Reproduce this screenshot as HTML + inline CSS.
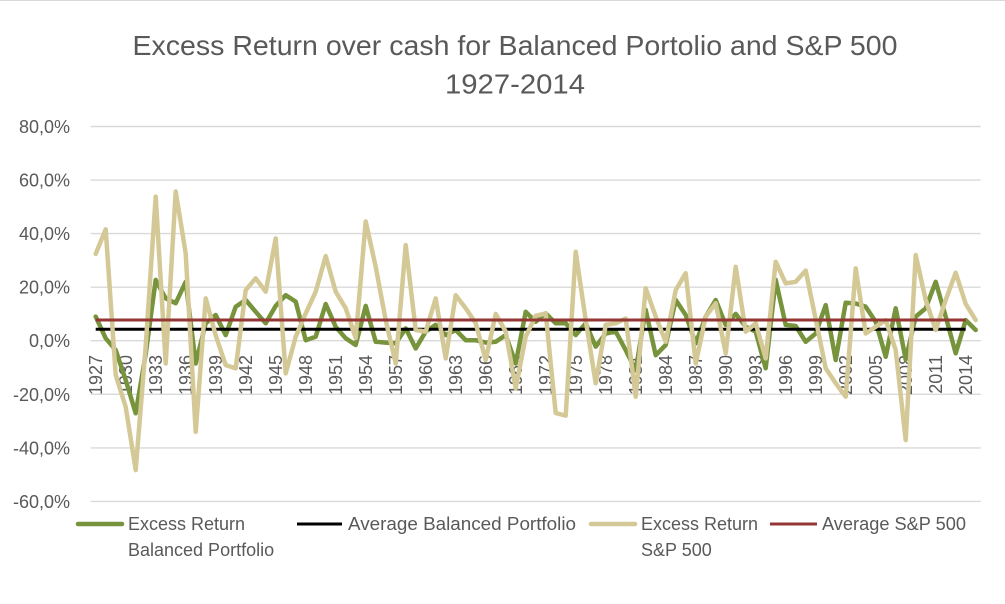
<!DOCTYPE html>
<html>
<head>
<meta charset="utf-8">
<style>
html,body{margin:0;padding:0;background:#fff;}
svg{display:block;}
text{font-family:"Liberation Sans",Arial,sans-serif;fill:#595959;}
</style>
</head>
<body>
<svg width="1005" height="604" viewBox="0 0 1005 604" xmlns="http://www.w3.org/2000/svg">
<rect x="0" y="0" width="1005" height="604" fill="#fff"/>
<line x1="0" y1="0.5" x2="1005" y2="0.5" stroke="#D9D9D9" stroke-width="1"/>

<!-- Title -->
<text x="515" y="55" font-size="28" text-anchor="middle" textLength="765" lengthAdjust="spacingAndGlyphs">Excess Return over cash for Balanced Portolio and S&amp;P 500</text>
<text x="515" y="93.5" font-size="28" text-anchor="middle" textLength="140" lengthAdjust="spacingAndGlyphs">1927-2014</text>

<!-- Gridlines -->
<g stroke="#D9D9D9" stroke-width="1.4">
<line x1="90.7" y1="126.5" x2="980.7" y2="126.5"/>
<line x1="90.7" y1="180.1" x2="980.7" y2="180.1"/>
<line x1="90.7" y1="233.6" x2="980.7" y2="233.6"/>
<line x1="90.7" y1="287.2" x2="980.7" y2="287.2"/>
<line x1="90.7" y1="340.7" x2="980.7" y2="340.7"/>
<line x1="90.7" y1="394.3" x2="980.7" y2="394.3"/>
<line x1="90.7" y1="447.9" x2="980.7" y2="447.9"/>
<line x1="90.7" y1="501.4" x2="980.7" y2="501.4"/>
</g>

<!-- Y labels -->
<g font-size="18" text-anchor="end">
<text x="70" y="133">80,0%</text>
<text x="70" y="186.6">60,0%</text>
<text x="70" y="240.1">40,0%</text>
<text x="70" y="293.7">20,0%</text>
<text x="70" y="347.2">0,0%</text>
<text x="70" y="400.8">-20,0%</text>
<text x="70" y="454.4">-40,0%</text>
<text x="70" y="507.9">-60,0%</text>
</g>

<!-- X labels -->
<g font-size="18" text-anchor="end">
<text transform="translate(102.2,355) rotate(-90)">1927</text>
<text transform="translate(132.2,355) rotate(-90)">1930</text>
<text transform="translate(162.2,355) rotate(-90)">1933</text>
<text transform="translate(192.2,355) rotate(-90)">1936</text>
<text transform="translate(222.2,355) rotate(-90)">1939</text>
<text transform="translate(252.2,355) rotate(-90)">1942</text>
<text transform="translate(282.2,355) rotate(-90)">1945</text>
<text transform="translate(312.2,355) rotate(-90)">1948</text>
<text transform="translate(342.2,355) rotate(-90)">1951</text>
<text transform="translate(372.2,355) rotate(-90)">1954</text>
<text transform="translate(402.2,355) rotate(-90)">1957</text>
<text transform="translate(432.2,355) rotate(-90)">1960</text>
<text transform="translate(462.2,355) rotate(-90)">1963</text>
<text transform="translate(492.2,355) rotate(-90)">1966</text>
<text transform="translate(522.2,355) rotate(-90)">1969</text>
<text transform="translate(552.2,355) rotate(-90)">1972</text>
<text transform="translate(582.2,355) rotate(-90)">1975</text>
<text transform="translate(612.2,355) rotate(-90)">1978</text>
<text transform="translate(642.2,355) rotate(-90)">1981</text>
<text transform="translate(672.2,355) rotate(-90)">1984</text>
<text transform="translate(702.2,355) rotate(-90)">1987</text>
<text transform="translate(732.2,355) rotate(-90)">1990</text>
<text transform="translate(762.2,355) rotate(-90)">1993</text>
<text transform="translate(792.2,355) rotate(-90)">1996</text>
<text transform="translate(822.2,355) rotate(-90)">1999</text>
<text transform="translate(852.2,355) rotate(-90)">2002</text>
<text transform="translate(882.2,355) rotate(-90)">2005</text>
<text transform="translate(912.2,355) rotate(-90)">2008</text>
<text transform="translate(942.2,355) rotate(-90)">2011</text>
<text transform="translate(972.2,355) rotate(-90)">2014</text>
</g>

<!-- Series -->
<g transform="translate(95.7,0)" fill="none" stroke-linejoin="round">
<polyline stroke="#77933C" stroke-width="4.5" stroke-linecap="round" points="0,316.6 10,338.3 20,350.1 30,380.1 40,413.3 50,354.1 60,279.9 70,298.4 80,303.2 90,281.8 100,363.5 110,323.3 120,315 130,335.1 140,306.7 150,300 160,311.8 170,323.3 180,305.9 190,295.2 200,301.6 210,340.2 220,336.7 230,304 240,326.8 250,338.3 260,345 270,305.9 280,341.8 290,342.6 300,343.4 310,328.4 320,348.5 330,331.6 340,324.9 350,335.1 360,330 370,340.2 380,340.2 390,342.6 400,341.8 410,335.1 420,363.5 430,311.8 440,321.7 450,313.4 460,323.3 470,323.3 480,335.1 490,323.3 500,346.6 510,333.5 520,331.6 530,350.1 540,370.2 550,309.9 560,355.2 570,345 580,300 590,315 600,343.4 610,316.6 620,300 630,324.9 640,313.9 650,326.8 660,331.6 670,368.3 680,279.9 690,324.9 700,326 710,341.8 720,333.5 730,305.1 740,360 750,302.7 760,303.5 770,306.7 780,321.7 790,356.8 800,308.3 810,359.5 820,316.6 830,308.3 840,281.8 850,316.6 860,353.3 870,320.1 880,330"/>
<line x1="0" y1="329.3" x2="870" y2="329.3" stroke="#000" stroke-width="3"/>
<polyline stroke="#D4C996" stroke-width="4.5" stroke-linecap="round" points="0,253.9 10,229.3 20,375 30,406.9 40,470.1 50,346.1 60,196.6 70,363.5 80,191.5 90,253.4 100,431.8 110,298.4 120,335.3 130,365.1 140,368.3 150,290.1 160,278.3 170,291.7 180,238.4 190,373.4 200,336.7 210,313.4 220,291.7 230,256.1 240,291.7 250,308.3 260,338 270,221.5 280,266.8 290,320.1 300,363.5 310,245.1 320,330 330,331.6 340,298.4 350,358.4 360,295.2 370,308.3 380,323.3 390,360 400,313.9 410,331.6 420,388.4 430,336.7 440,315.8 450,313.4 460,413 470,415.7 480,251.8 490,320.1 500,383.3 510,324.9 520,323.3 530,318.5 540,396.7 550,288.2 560,316.6 570,341.8 580,290.1 590,273.2 600,363.5 610,316.6 620,303.2 630,353.3 640,266.8 650,331.6 660,323.3 670,358.4 680,261.7 690,283.4 700,281.8 710,270.5 720,319.3 730,368.3 740,383.3 750,396.7 760,268.4 770,333.5 780,326.8 790,320.1 800,350.1 810,440.1 820,255 830,300 840,330 850,300 860,272.7 870,304 880,320.1"/>
<line x1="0" y1="320" x2="870" y2="320" stroke="#943634" stroke-width="3"/>
</g>

<!-- Legend -->
<line x1="78" y1="524" x2="122" y2="524" stroke="#77933C" stroke-width="4.5" stroke-linecap="round"/>
<text x="128" y="530" font-size="18">Excess Return</text>
<text x="128" y="556" font-size="18">Balanced Portfolio</text>

<line x1="297" y1="524" x2="342" y2="524" stroke="#000" stroke-width="3"/>
<text x="348" y="530" font-size="18" textLength="228" lengthAdjust="spacingAndGlyphs">Average Balanced Portfolio</text>

<line x1="591" y1="524" x2="635" y2="524" stroke="#D4C996" stroke-width="4.5" stroke-linecap="round"/>
<text x="641" y="530" font-size="18">Excess Return</text>
<text x="641" y="556" font-size="18">S&amp;P 500</text>

<line x1="770" y1="524" x2="817" y2="524" stroke="#943634" stroke-width="3"/>
<text x="822" y="530" font-size="18" textLength="144" lengthAdjust="spacingAndGlyphs">Average S&amp;P 500</text>
</svg>
</body>
</html>
